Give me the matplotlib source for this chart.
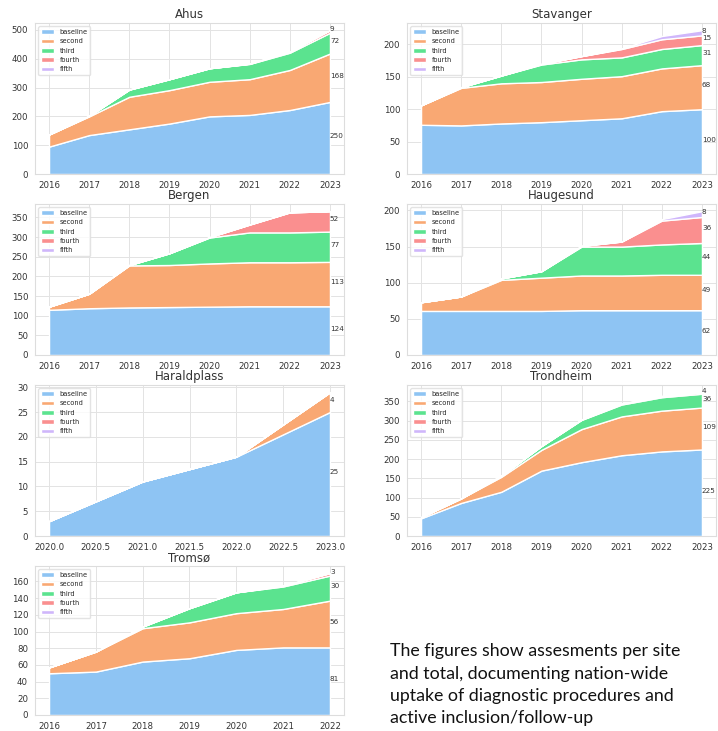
import matplotlib
matplotlib.use("Agg")
import matplotlib.pyplot as plt
from matplotlib.ticker import MultipleLocator
import seaborn as sns

sns.set_style("whitegrid")
plt.rcParams["font.family"] = ["DejaVu Sans"]

series_names = ["baseline", "second", "third", "fourth", "fifth"]
colors = ["#8ec4f3", "#f9a873", "#5be38f", "#fa8f8f", "#cfb6fb"]

years = [2016, 2017, 2018, 2019, 2020, 2021, 2022, 2023]
years_haraldplass = [2020, 2021, 2022, 2023]
years_tromso = [2016, 2017, 2018, 2019, 2020, 2021, 2022]

ahus_baseline = [95, 135, 155, 175, 200, 205, 222, 250]
ahus_second = [42, 65, 113, 116, 120, 124, 139, 168]
ahus_third = [0, 2, 25, 38, 47, 53, 60, 72]
ahus_fourth = [0, 0, 0, 0, 0, 1, 4, 9]
ahus_fifth = [0, 0, 0, 0, 0, 0, 0, 0]

stavanger_baseline = [76, 75, 78, 80, 83, 86, 97, 100]
stavanger_second = [30, 58, 62, 62, 64, 65, 66, 68]
stavanger_third = [0, 1, 12, 27, 30, 29, 30, 31]
stavanger_fourth = [0, 0, 0, 1, 5, 13, 15, 15]
stavanger_fifth = [0, 0, 0, 0, 0, 1, 5, 8]

bergen_baseline = [115, 119, 121, 122, 123, 124, 124, 124]
bergen_second = [8, 37, 107, 107, 110, 112, 112, 113]
bergen_third = [0, 0, 1, 30, 66, 76, 76, 77]
bergen_fourth = [0, 0, 0, 0, 1, 20, 51, 52]
bergen_fifth = [0, 0, 0, 0, 0, 0, 0, 0]

haugesund_baseline = [61, 61, 61, 61, 62, 62, 62, 62]
haugesund_second = [12, 20, 43, 46, 48, 48, 49, 49]
haugesund_third = [0, 0, 2, 9, 40, 40, 42, 44]
haugesund_fourth = [0, 0, 0, 0, 1, 7, 33, 36]
haugesund_fifth = [0, 0, 0, 0, 0, 0, 2, 8]

haraldplass_baseline = [3, 11, 16, 25]
haraldplass_second = [0, 0, 0, 4]
haraldplass_third = [0, 0, 0, 0]
haraldplass_fourth = [0, 0, 0, 0]
haraldplass_fifth = [0, 0, 0, 0]

trondheim_baseline = [46, 86, 115, 170, 192, 210, 220, 225]
trondheim_second = [3, 12, 39, 54, 86, 101, 106, 109]
trondheim_third = [0, 0, 3, 10, 24, 31, 35, 36]
trondheim_fourth = [0, 0, 0, 0, 1, 2, 3, 4]
trondheim_fifth = [0, 0, 0, 0, 0, 0, 0, 0]

tromso_baseline = [50, 52, 64, 68, 78, 81, 81]
tromso_second = [7, 24, 40, 43, 44, 46, 56]
tromso_third = [0, 0, 2, 17, 25, 27, 30]
tromso_fourth = [0, 0, 0, 0, 0, 1, 3]
tromso_fifth = [0, 0, 0, 0, 0, 0, 0]

sites = [
    ("Ahus", years, [ahus_baseline, ahus_second, ahus_third, ahus_fourth, ahus_fifth]),
    ("Stavanger", years, [stavanger_baseline, stavanger_second, stavanger_third,
                          stavanger_fourth, stavanger_fifth]),
    ("Bergen", years, [bergen_baseline, bergen_second, bergen_third, bergen_fourth, bergen_fifth]),
    ("Haugesund", years, [haugesund_baseline, haugesund_second, haugesund_third,
                          haugesund_fourth, haugesund_fifth]),
    ("Haraldplass", years_haraldplass, [haraldplass_baseline, haraldplass_second,
                                        haraldplass_third, haraldplass_fourth, haraldplass_fifth]),
    ("Trondheim", years, [trondheim_baseline, trondheim_second, trondheim_third,
                          trondheim_fourth, trondheim_fifth]),
    ("Tromsø", years_tromso, [tromso_baseline, tromso_second, tromso_third,
                              tromso_fourth, tromso_fifth]),
]

note = ("The figures show assesments per site\n"
        "and total, documenting nation-wide\n"
        "uptake of diagnostic procedures and\n"
        "active inclusion/follow-up")

W, H = 718, 731
fig = plt.figure(figsize=(W / 100, H / 100), dpi=100)

col_left = [35, 407]
row_top = [23, 204, 385, 566]
row_h = [151, 151, 151, 149]
ax_w = 309

for i, (name, xs, stacks) in enumerate(sites):
    r, c = divmod(i, 2)
    left = col_left[c]
    top = row_top[r]
    ax_h = row_h[r]
    ax = fig.add_axes([left / W, 1 - (top + ax_h) / H, ax_w / W, ax_h / H])
    ax.stackplot(xs, *stacks, labels=series_names, colors=colors)
    ax.set_title(name, fontsize=8.5, color="#333333", pad=3.5)
    ax.tick_params(labelsize=6.2, colors="#333333", pad=1.5)
    if name == "Tromsø":
        ax.yaxis.set_major_locator(MultipleLocator(20))
    for sp in ax.spines.values():
        sp.set_color("#dddddd")
        sp.set_linewidth(0.8)
    ax.grid(color="#e3e3e3", linewidth=0.7)
    ax.legend(loc="upper left", fontsize=4.8, frameon=True, edgecolor="#dddddd",
              borderaxespad=0.5, handlelength=2.0)
    cum = 0
    for vals in stacks:
        v = vals[-1]
        if v > 0:
            ax.text(xs[-1], cum + v / 2, str(v), fontsize=5.2, color="#333333",
                    ha="left", va="baseline")
        cum += v

fig.text(390 / W, 1 - 643 / H, note, fontsize=12.8, family="Lato", color="#111111",
         ha="left", va="top", linespacing=1.5)

fig.savefig("out.png", dpi=100)
